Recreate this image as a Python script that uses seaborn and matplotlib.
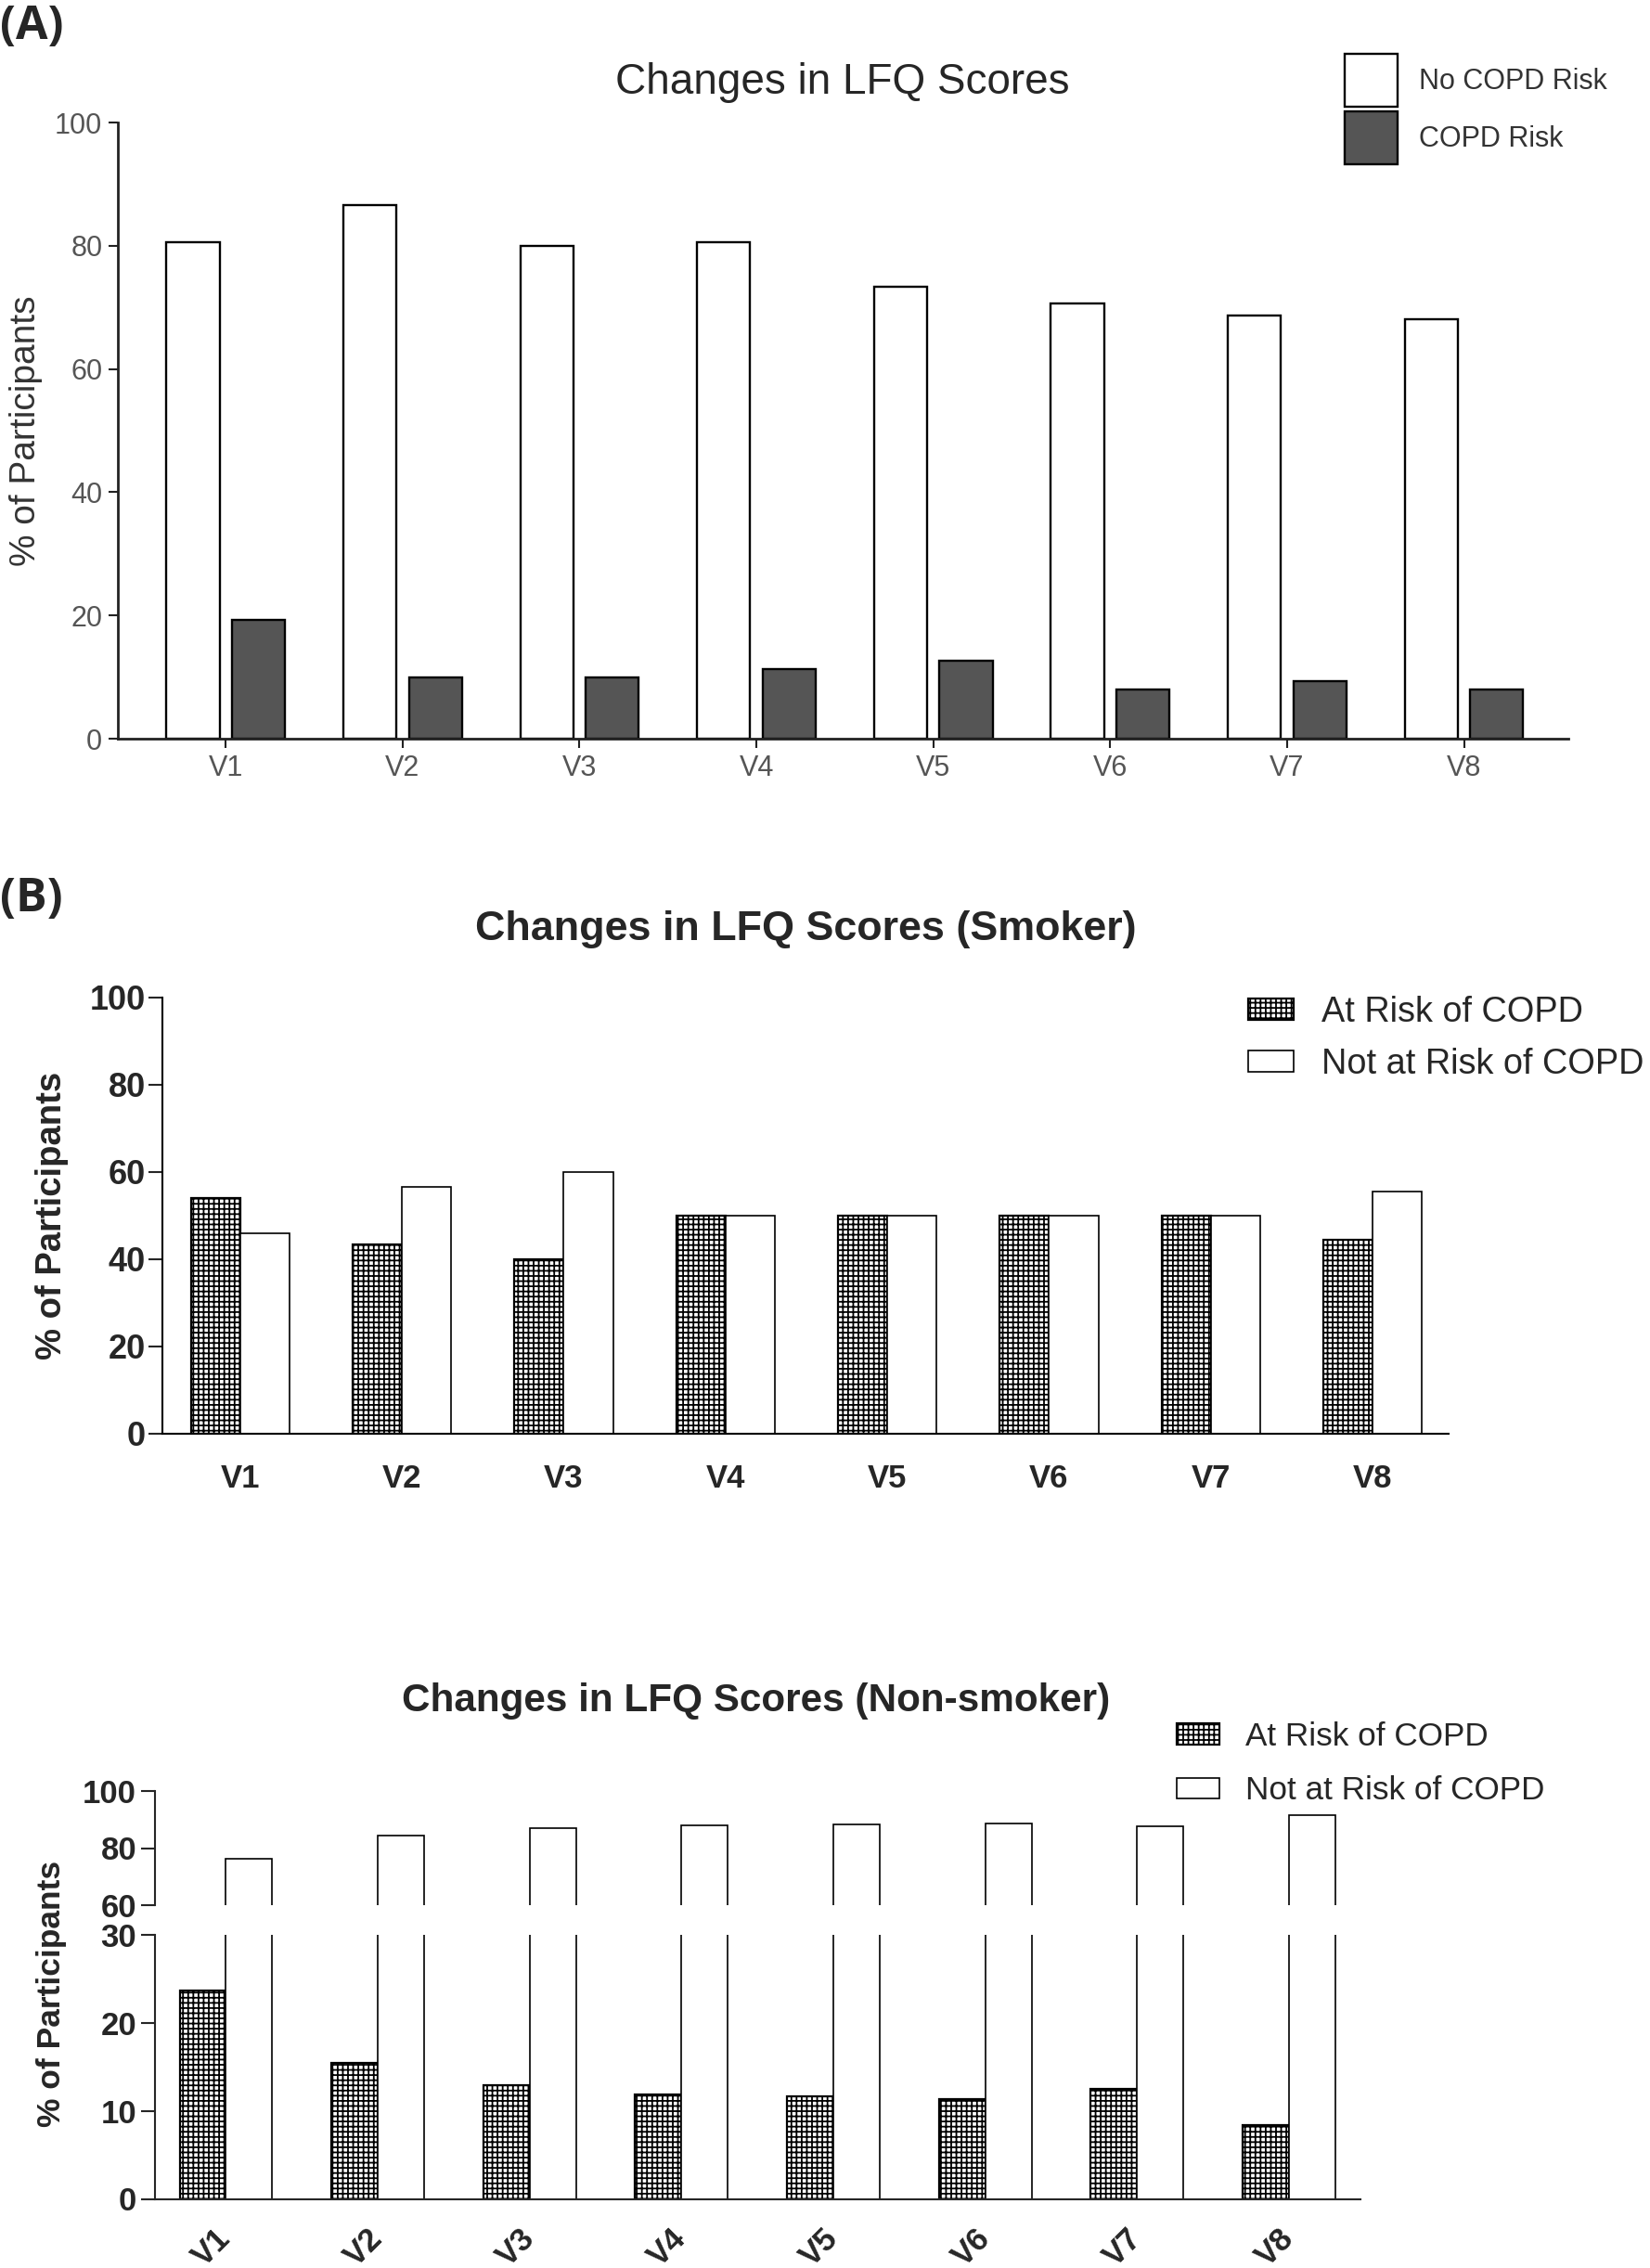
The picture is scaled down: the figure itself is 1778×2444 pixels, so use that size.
import pandas as pd
import seaborn as sns
import matplotlib.pyplot as plt
from matplotlib.patches import Patch

visits = ["V1", "V2", "V3", "V4", "V5", "V6", "V7", "V8"]

# (A) all participants
groups_a = ["No COPD Risk", "COPD Risk"]
no_risk_all = [80.6, 86.6, 79.9, 80.6, 73.3, 70.6, 68.7, 68.0]
risk_all = [19.3, 10.0, 10.0, 11.3, 12.6, 8.0, 9.3, 8.0]

# (B) smokers / non-smokers
groups_b = ["At Risk of COPD", "Not at Risk of COPD"]
risk_smoker = [54.0, 43.5, 40.0, 50.0, 50.0, 50.0, 50.0, 44.4]
no_risk_smoker = [46.0, 56.5, 60.0, 50.0, 50.0, 50.0, 50.0, 55.6]
risk_nonsmoker = [23.7, 15.5, 12.9, 11.9, 11.7, 11.3, 12.5, 8.4]
no_risk_nonsmoker = [76.3, 84.5, 87.1, 88.1, 88.3, 88.7, 87.5, 91.6]

W, H = 1778, 2444
CHECK = "+++"


def long_df(groups, values):
    frames = [pd.DataFrame({"visit": visits, "pct": v, "group": g}) for g, v in zip(groups, values)]
    return pd.concat(frames, ignore_index=True)


def add_axes_px(fig, left, top, right, bottom):
    # position in pixels of the final image
    return fig.add_axes([left / W, 1 - bottom / H, (right - left) / W, (bottom - top) / H])


sns.set_style("ticks")
plt.rcParams["font.family"] = ["Liberation Sans", "DejaVu Sans"]
plt.rcParams["hatch.linewidth"] = 1.3
plt.rcParams["hatch.color"] = "black"

fig = plt.figure(figsize=(W / 100, H / 100), dpi=100)

# ---------------- (A) ----------------
df_a = long_df(groups_a, [no_risk_all, risk_all])
ax = add_axes_px(fig, 127, 132, 1690, 796)
sns.barplot(data=df_a, x="visit", y="pct", hue="group", hue_order=groups_a,
            palette=["white", "#555555"], saturation=1, edgecolor="black",
            linewidth=1.7, width=0.74, gap=0.19, errorbar=None, legend=False, ax=ax)
ax.set(xlim=(-0.61, 7.59), ylim=(0, 100), xlabel="")
ax.set_yticks(range(0, 101, 20))
sns.despine(ax=ax)
for s in ["left", "bottom"]:
    ax.spines[s].set_linewidth(2)
    ax.spines[s].set_color("#222222")
ax.tick_params(length=7, width=1.5, color="#222222", labelsize=22, labelcolor="#555555", pad=5)
ax.set_ylabel("% of Participants", fontsize=28, color="#333333", va="center")
ax.yaxis.set_label_coords((28 - 127) / (1690 - 127), 0.5)

fig.text(908 / W, 1 - 89 / H, "Changes in LFQ Scores", ha="center", va="center", fontsize=33)
fig.text(0, 1 - 4 / H, "(A)", ha="left", va="top", fontsize=36, fontweight="bold",
         family=["Open Sans", "DejaVu Sans"])
fig.legend(handles=[Patch(facecolor="white", edgecolor="black", linewidth=1.7),
                    Patch(facecolor="#555555", edgecolor="black", linewidth=1.7)],
           labels=groups_a, loc="upper left", bbox_to_anchor=(1449 / W, 1 - 58 / H),
           frameon=False, borderpad=0, borderaxespad=0, fontsize=22,
           handlelength=1.88, handleheight=2.5, handletextpad=0.74, labelspacing=0.17,
           labelcolor="#333333")

# ---------------- (B) smoker ----------------
df_s = long_df(groups_b, [risk_smoker, no_risk_smoker])
ax = add_axes_px(fig, 175, 1075, 1561, 1545)
sns.barplot(data=df_s, x="visit", y="pct", hue="group", hue_order=groups_b,
            palette=["white", "white"], saturation=1, edgecolor="black",
            linewidth=1.2, width=0.61, gap=0, errorbar=None, legend=False, ax=ax)
for bar in ax.containers[0]:
    bar.set_hatch(CHECK)
    bar.set_linewidth(1.6)
ax.set(xlim=(-0.48, 7.47), ylim=(0, 100), xlabel="")
ax.set_yticks(range(0, 101, 20))
sns.despine(ax=ax)
for s in ["left", "bottom"]:
    ax.spines[s].set_linewidth(1.5)
    ax.spines[s].set_color("black")
ax.tick_params(axis="y", length=11, width=1.5, labelsize=26, pad=2)
ax.tick_params(axis="x", length=0, labelsize=25, pad=23)
for lab in ax.get_xticklabels() + ax.get_yticklabels():
    lab.set_fontweight("bold")
ax.set_ylabel("% of Participants", fontsize=27.5, fontweight="bold", va="center")
ax.yaxis.set_label_coords((56 - 175) / (1561 - 175), 0.5)

fig.text(868 / W, 1 - 1002 / H, "Changes in LFQ Scores (Smoker)", ha="center", va="center",
         fontsize=32.3, fontweight="bold")
fig.text(0, 1 - 944 / H, "(B)", ha="left", va="top", fontsize=36, fontweight="bold",
         family=["Open Sans", "DejaVu Sans"])
fig.legend(handles=[Patch(facecolor="white", edgecolor="black", linewidth=1.6, hatch=CHECK),
                    Patch(facecolor="white", edgecolor="black", linewidth=1.2)],
           labels=groups_b, loc="upper left", bbox_to_anchor=(1345 / W, 1 - 1073 / H),
           frameon=False, borderpad=0, borderaxespad=0, fontsize=27.3,
           handlelength=1.29, handleheight=0.57, handletextpad=0.8, labelspacing=0.52)

# ---------------- (B) non-smoker, broken axis ----------------
df_n = long_df(groups_b, [risk_nonsmoker, no_risk_nonsmoker])
ax_up = add_axes_px(fig, 166.5, 1930, 1466, 2053)
ax_lo = add_axes_px(fig, 166.5, 2085, 1466, 2369.5)
for a in [ax_up, ax_lo]:
    sns.barplot(data=df_n, x="visit", y="pct", hue="group", hue_order=groups_b,
                palette=["white", "white"], saturation=1, edgecolor="black",
                linewidth=1.2, width=0.61, gap=0, errorbar=None, legend=False, ax=a)
    for bar in a.containers[0]:
        bar.set_hatch(CHECK)
        bar.set_linewidth(1.6)
    a.set(xlim=(-0.47, 7.47), xlabel="", ylabel="")
    sns.despine(ax=a)
    a.spines["left"].set_linewidth(1.5)
    a.spines["bottom"].set_linewidth(1.5)
    a.tick_params(axis="y", length=11, width=1.5, labelsize=25, pad=3)

ax_up.set_ylim(60, 100)
ax_up.set_yticks([60, 80, 100])
ax_up.spines["bottom"].set_visible(False)
ax_up.tick_params(axis="x", bottom=False, labelbottom=False)

ax_lo.set_ylim(0, 30)
ax_lo.set_yticks([0, 10, 20, 30])
ax_lo.tick_params(axis="x", length=0, pad=27)
ax_lo.set_xticks(range(len(visits)))
ax_lo.set_xticklabels(visits, rotation=45, ha="right", va="center", rotation_mode="anchor",
                      fontsize=25, fontweight="bold")
for a in [ax_up, ax_lo]:
    for lab in a.get_yticklabels():
        lab.set_fontweight("bold")

fig.text(55 / W, 1 - 2148 / H, "% of Participants", rotation=90, ha="center", va="center",
         fontsize=25.5, fontweight="bold")
fig.text(815 / W, 1 - 1833 / H, "Changes in LFQ Scores (Non-smoker)", ha="center", va="center",
         fontsize=30.4, fontweight="bold")
fig.legend(handles=[Patch(facecolor="white", edgecolor="black", linewidth=1.6, hatch=CHECK),
                    Patch(facecolor="white", edgecolor="black", linewidth=1.2)],
           labels=groups_b, loc="upper left", bbox_to_anchor=(1268 / W, 1 - 1855 / H),
           frameon=False, borderpad=0, borderaxespad=0, fontsize=25.3,
           handlelength=1.31, handleheight=0.6, handletextpad=0.8, labelspacing=0.72)

fig.savefig("out.png", dpi=100)
